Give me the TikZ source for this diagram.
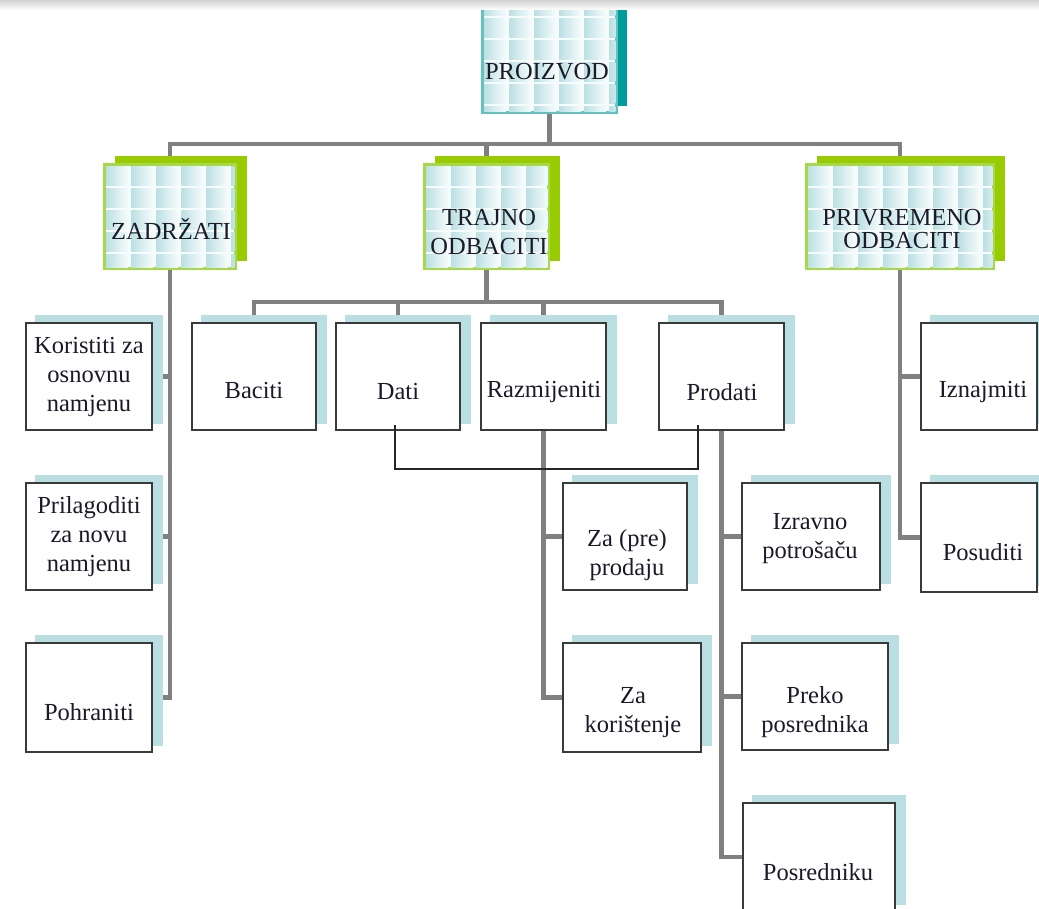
\documentclass[tikz,border=0pt]{standalone}
\usepackage{fontspec}
\setmainfont{Liberation Serif}
\usetikzlibrary{calc,backgrounds}
\definecolor{conn}{HTML}{808080}
\definecolor{leafshadow}{HTML}{B9DFE2}
\definecolor{leafborder}{HTML}{3A3A3A}
\definecolor{greenshadow}{HTML}{99CC00}
\definecolor{greenborder}{HTML}{A6D84A}
\definecolor{tealborder}{HTML}{62C2C2}
\definecolor{tealshadow}{HTML}{009B9B}
\definecolor{tileA}{HTML}{BCE0E3}
\definecolor{tileB}{HTML}{F6FCFC}
\definecolor{txt}{HTML}{1A1A28}
\newcommand\tilefill[1]{%
  \begin{scope}
    \clip ($(#1.north west)+(1.5,1.5)$) rectangle ($(#1.south east)+(-1.5,-1.5)$);
    \fill[tileB] ($(#1.north west)+(1.5,1.5)$) rectangle ($(#1.south east)+(-1.5,-1.5)$);
    \foreach \i in {0,...,8}{\foreach \j in {0,...,5}{
      \shade[left color=tileA, right color=tileB]
        ($(#1.north west)+(2+\i*25,2+\j*22)$) rectangle ++(22,19);
    }}
  \end{scope}}
\newcommand\dropshadow[3]{% node, color, (dx,dy)
  \fill[#2] ($(#1.north west)+#3$) rectangle ($(#1.south east)+#3$);}
\begin{document}
\begin{tikzpicture}[x=1pt,y=-1pt,
  leaf/.style={draw=leafborder, line width=2pt, fill=white, inner sep=0pt, rectangle},
  topbox/.style={draw=tealborder, line width=1.6pt, fill=white, inner sep=0pt, rectangle},
  midbox/.style={draw=greenborder, line width=1.6pt, fill=white, inner sep=0pt, rectangle},
  lbl/.style={font=\fontsize{24.5}{29}\selectfont, align=center, inner sep=0pt, text=txt},
  link/.style={draw=conn, line width=4.5pt},
  weak/.style={draw=black!85, line width=1.3pt}]
\useasboundingbox (0,0) rectangle (1039,909);

% level 1 and 2
\node[topbox, minimum width=133pt, minimum height=117pt] (proiz) at (549.5,53.5) {};
\node[midbox, minimum width=130pt, minimum height=103pt] (zad) at (170,216.5) {};
\node[midbox, minimum width=123pt, minimum height=103pt] (traj) at (486.5,216.5) {};
\node[midbox, minimum width=186pt, minimum height=103pt] (priv) at (900,216.5) {};

% leaves
\node[leaf, minimum width=126pt, minimum height=107pt] (kor) at (89,376.5) {};
\node[leaf, minimum width=126pt, minimum height=107pt] (pri) at (89,536.5) {};
\node[leaf, minimum width=126pt, minimum height=109pt] (poh) at (89,697.5) {};
\node[leaf, minimum width=124pt, minimum height=107pt] (bac) at (254,376.5) {};
\node[leaf, minimum width=124pt, minimum height=107pt] (dat) at (398,376.5) {};
\node[leaf, minimum width=125pt, minimum height=107pt] (raz) at (543.5,376.5) {};
\node[leaf, minimum width=125pt, minimum height=107pt] (pro) at (721.5,376.5) {};
\node[leaf, minimum width=124pt, minimum height=107pt] (zap) at (625,536.5) {};
\node[leaf, minimum width=138pt, minimum height=109pt] (zak) at (632,697.5) {};
\node[leaf, minimum width=138pt, minimum height=107pt] (izr) at (811,536.5) {};
\node[leaf, minimum width=146pt, minimum height=107pt] (pre) at (815,696.5) {};
\node[leaf, minimum width=152pt, minimum height=108pt] (pos) at (819,857) {};
\node[leaf, minimum width=116pt, minimum height=107pt] (izn) at (979,376.5) {};
\node[leaf, minimum width=116pt, minimum height=109pt] (psd) at (979,537.5) {};

\begin{scope}[on background layer]
  \fill[white] (0,0) rectangle (1039,909);
  % connectors
  \draw[link] (proiz.south) -- ++(0,31) coordinate (h1);
  \draw[link] (zad.north) |- (h1);
  \draw[link] (traj.north) |- (h1);
  \draw[link] (priv.north) |- (h1);
  \draw[link] (zad.south) |- (kor.east);
  \draw[link] (zad.south) |- (pri.east);
  \draw[link] (zad.south) |- (poh.east);
  \draw[link] (traj.south) -- ++(0,33) coordinate (h2);
  \draw[link] (bac.north) |- (h2);
  \draw[link] (dat.north) |- (h2);
  \draw[link] (raz.north) |- (h2);
  \draw[link] (pro.north) |- (h2);
  \draw[link] (raz.south) |- (zap.west);
  \draw[link] (raz.south) |- (zak.west);
  \draw[link] (pro.south) |- (izr.west);
  \draw[link] (pro.south) |- (pre.west);
  \draw[link] (pro.south) |- (pos.west);
  \draw[link] (priv.south) |- (izn.west);
  \draw[link] (priv.south) |- (psd.west);
  % shadows
  \dropshadow{proiz}{tealshadow}{(10,-7)}
  \foreach \n in {zad,traj,priv}{\dropshadow{\n}{greenshadow}{(11,-8)}}
  \foreach \n in {kor,pri,poh,bac,dat,raz,pro,zap,zak,izr,pre,pos,izn,psd}{\dropshadow{\n}{leafshadow}{(10,-7)}}
\end{scope}

% tiles
\tilefill{proiz}
\tilefill{zad}
\tilefill{traj}
\tilefill{priv}
\draw[tealborder, line width=1.6pt] (proiz.north west) rectangle (proiz.south east);
\foreach \n in {zad,traj,priv}{\draw[greenborder, line width=1.6pt] (\n.north west) rectangle (\n.south east);}

% labels
\node[lbl] (proiz-t) at (547,72) {PROIZVOD};
\node[lbl] (zad-t) at (171,229) {ZADRŽATI};
\node[lbl] (traj-t) at (489,232) {TRAJNO\\ODBACITI};
\node[lbl, font=\fontsize{24.5}{23}\selectfont] (priv-t) at (902,229) {PRIVREMENO\\ODBACITI};
\node[lbl] (kor-t) at (89,377) {Koristiti za\\osnovnu\\namjenu};
\node[lbl] (pri-t) at (89,537) {Prilagoditi\\za novu\\namjenu};
\node[lbl] (poh-t) at (89,712) {Pohraniti};
\node[lbl] (bac-t) at (254,391) {Baciti};
\node[lbl] (dat-t) at (398,392) {Dati};
\node[lbl] (raz-t) at (544,392) {Razmijeniti};
\node[lbl] (pro-t) at (722,392) {Prodati};
\node[lbl] (zap-t) at (627,555) {Za (pre)\\prodaju};
\node[lbl] (zak-t) at (633,713) {Za\\korištenje};
\node[lbl] (izr-t) at (810,539) {Izravno\\potrošaču};
\node[lbl] (pre-t) at (815,712) {Preko\\posrednika};
\node[lbl] (pos-t) at (818,872) {Posredniku};
\node[lbl] (izn-t) at (983,392) {Iznajmiti};
\node[lbl] (psd-t) at (983,552) {Posuditi};

% thin connector Dati - Prodati
\draw[weak] ($(dat.south)+(-3,-6)$) -- ++(0,44) -| ($(pro.south)+(-23.5,-6)$);

% top band
\shade[top color=black!18, bottom color=white] (0,0) rectangle (1039,10);
\end{tikzpicture}
\end{document}
